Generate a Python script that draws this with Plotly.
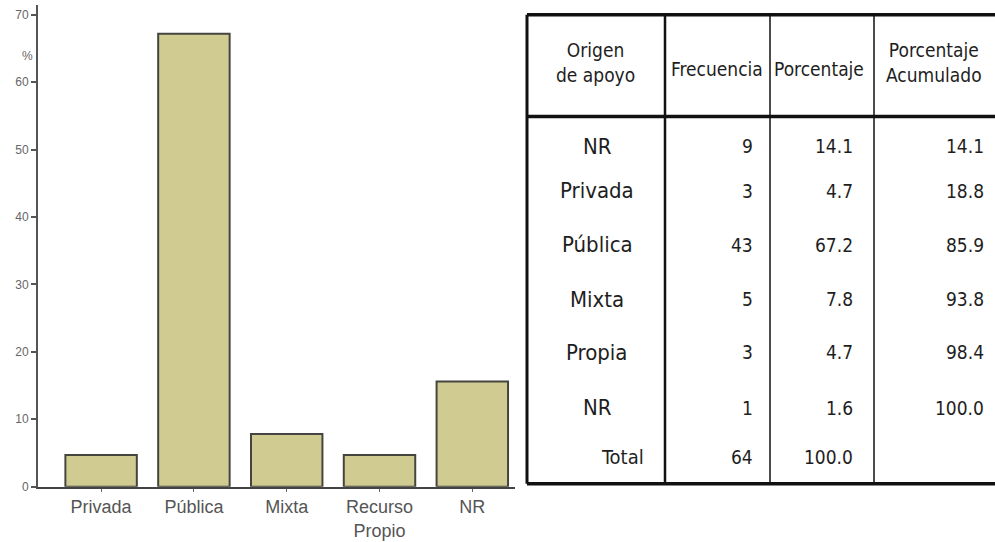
import plotly.graph_objects as go

# ---- data ----
categories = ["Privada", "Pública", "Mixta", "Recurso<br>Propio", "NR"]
percent_values = [4.7, 67.2, 7.8, 4.7, 15.6]
y_ticks = [0, 10, 20, 30, 40, 50, 60, 70]

table_headers = ["Origen<br>de apoyo", "Frecuencia", "Porcentaje", "Porcentaje<br>Acumulado"]
row_labels = ["NR", "Privada", "Pública", "Mixta", "Propia", "NR", "Total"]
frecuencia = ["9", "3", "43", "5", "3", "1", "64"]
porcentaje = ["14.1", "4.7", "67.2", "7.8", "4.7", "1.6", "100.0"]
acumulado = ["14.1", "18.8", "85.9", "93.8", "98.4", "100.0", ""]

W, H = 995, 542
def px(x):
    return x / W
def py(y):
    return 1 - y / H

fig = go.Figure()
fig.add_trace(go.Bar(
    x=categories, y=percent_values,
    marker=dict(color="#d0cb91", line=dict(color="#45453f", width=2)),
    width=0.77,
))

fig.update_layout(
    width=W, height=H,
    margin=dict(l=0, r=0, t=0, b=0),
    paper_bgcolor="white", plot_bgcolor="white",
    showlegend=False,
    font=dict(family="Liberation Sans, Arial, sans-serif"),
    xaxis=dict(
        domain=[px(38), px(515)],
        range=[-0.68, 4.46],
        showline=True, linecolor="#444", linewidth=2,
        ticks="outside", ticklen=3, tickcolor="#666", tickwidth=1,
        tickfont=dict(size=18, color="#555"),
        showgrid=False, zeroline=False,
    ),
    yaxis=dict(
        domain=[py(493), py(5)],
        range=[0, 71.46],
        tickvals=y_ticks,
        showline=True, linecolor="#555", linewidth=2,
        ticks="outside", ticklen=5, tickcolor="#555", tickwidth=2,
        tickfont=dict(size=12, color="#666"),
        showgrid=False, zeroline=False,
    ),
)

annotations = [dict(text="%", x=px(20), y=py(48), xref="paper", yref="paper",
                    showarrow=False, font=dict(size=12, color="#666"))]

tfont = "Liberation Sans Narrow, DejaVu Sans Condensed, Liberation Sans, sans-serif"
tcolor = "#1e1e1e"
# header
header_x = [595, 717, 819, 934]
header_y = [63, 70, 70, 63]
for h, hx, hy in zip(table_headers, header_x, header_y):
    annotations.append(dict(text=h, x=px(hx), y=py(hy), xref="paper", yref="paper",
                            showarrow=False, xanchor="center", yanchor="middle",
                            font=dict(family=tfont, size=19, color=tcolor)))

row_y = [148, 193, 248, 303, 357, 413, 463]
for i, (lab, f, p, a) in enumerate(zip(row_labels, frecuencia, porcentaje, acumulado)):
    yy = py(row_y[i])
    if lab == "Total":
        annotations.append(dict(text=lab, x=px(646), y=yy, xref="paper", yref="paper",
                                showarrow=False, xanchor="right", yanchor="middle",
                                font=dict(family=tfont, size=20, color=tcolor)))
    else:
        annotations.append(dict(text=lab, x=px(597), y=yy, xref="paper", yref="paper",
                                showarrow=False, xanchor="center", yanchor="middle",
                                font=dict(family=tfont, size=22, color=tcolor)))
    for val, rx in ((f, 755), (p, 855), (a, 986)):
        if val:
            annotations.append(dict(text=val, x=px(rx), y=yy, xref="paper", yref="paper",
                                    showarrow=False, xanchor="right", yanchor="middle",
                                    font=dict(family=tfont, size=19, color=tcolor)))

shapes = []
def line(x0, y0, x1, y1, w):
    shapes.append(dict(type="line", xref="paper", yref="paper",
                       x0=px(x0), y0=py(y0), x1=px(x1), y1=py(y1),
                       line=dict(color="#111", width=w)))

line(527, 15, 995, 15, 3.5)      # top
line(527, 118, 995, 118, 3.5)    # header separator
line(527, 490, 995, 490, 3.5)    # bottom
line(527, 15, 527, 490, 3)       # left
line(665, 15, 665, 490, 2.5)
line(770, 15, 770, 490, 1.5)
line(874, 15, 874, 490, 1.5)

fig.update_layout(annotations=annotations, shapes=shapes)

post_js = (
    "document.documentElement.style.margin='0';"
    "document.documentElement.style.overflow='hidden';"
    "document.body.style.margin='0';"
    "document.body.style.overflow='hidden';"
    "document.body.style.height='542px';"
    "var gd=document.getElementById('{plot_id}');"
    "gd.style.display='block';"
    "if(gd.parentNode){gd.parentNode.style.lineHeight='0';gd.parentNode.style.height='542px';gd.parentNode.style.overflow='hidden';}"
)
fig.write_html("out.html", config={"displayModeBar": False}, post_script=post_js)
